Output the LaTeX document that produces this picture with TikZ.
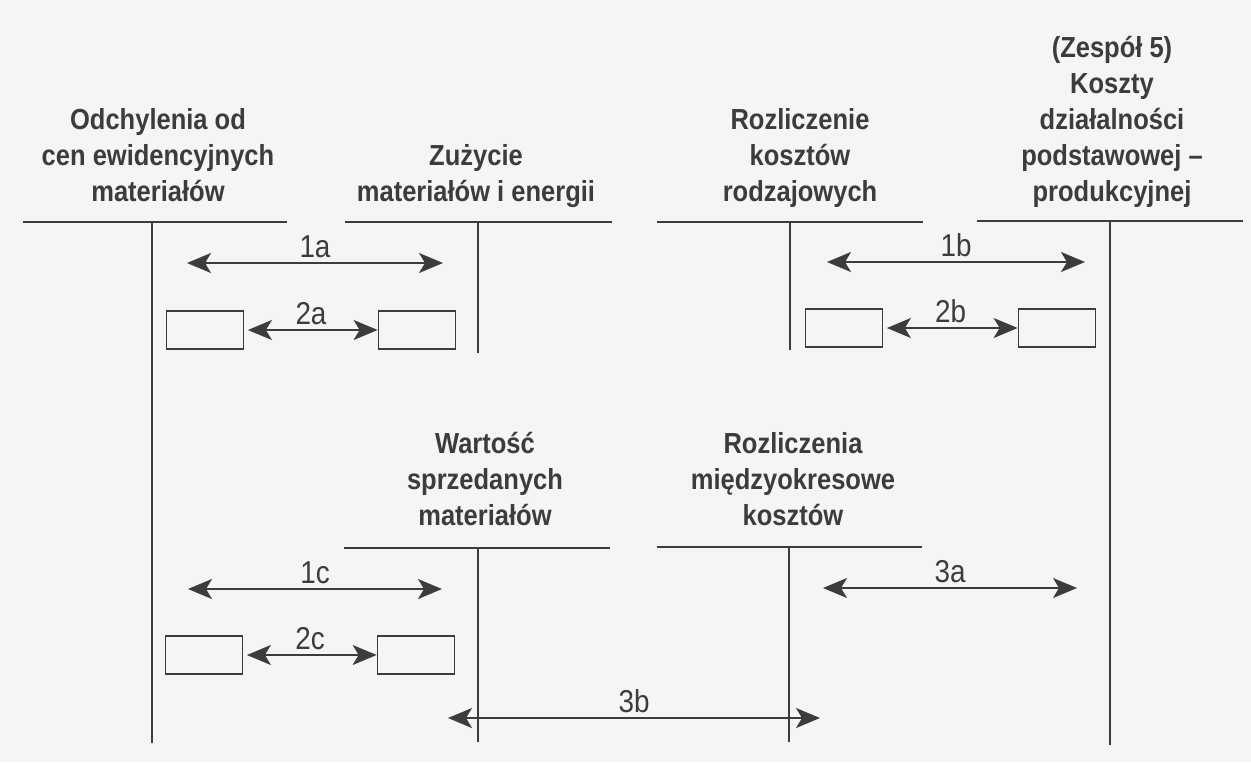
\documentclass[tikz,border=0pt]{standalone}
\usepackage{fontspec}
\setmainfont{Liberation Sans}[FakeStretch=0.88]
\usetikzlibrary{arrows.meta}

\definecolor{ink}{HTML}{3C3C3C}
\definecolor{paper}{HTML}{F5F5F5}

\tikzset{
  grot/.tip={Stealth[length=0.48cm, width=0.4cm, inset=0.12cm]},
  konto/.style={draw=ink, line width=1.1pt},
  naglowek/.style={anchor=south, align=center, inner sep=0pt, text=ink,
    font=\bfseries\fontsize{16.5}{20.5}\selectfont, execute at end node=\strut},
  okienko/.style={draw=ink, line width=1pt, minimum width=1.54cm,
    minimum height=0.76cm, inner sep=0pt},
  strzalka/.style={grot-grot, draw=ink, line width=1pt},
  etykieta/.style={above, inner sep=2.5pt, text=ink,
    font=\fontsize{18}{20}\selectfont}
}

\begin{document}
\begin{tikzpicture}[x=0.02cm, y=-0.02cm]
  \useasboundingbox (0,0) rectangle (1251,762);
  \fill[paper] (0,0) rectangle (1251,762);

  % naglowki kont
  \node[naglowek] (h-odch) at (158,213) {Odchylenia od\\cen ewidencyjnych\\materiałów};
  \node[naglowek] (h-zuz) at (476,213) {Zużycie\\materiałów i energii};
  \node[naglowek] (h-rkr) at (800,213) {Rozliczenie\\kosztów\\rodzajowych};
  \node[naglowek] (h-kdp) at (1112,213) {(Zespół 5)\\Koszty\\działalności\\podstawowej –\\produkcyjnej};
  \node[naglowek] (h-wsm) at (485,537) {Wartość\\sprzedanych\\materiałów};
  \node[naglowek] (h-rmk) at (793,537) {Rozliczenia\\międzyokresowe\\kosztów};

  % konta T
  \draw[konto] (23,222) -- (287,222);
  \draw[konto] (152,222) -- (152,743);
  \draw[konto] (345,222) -- (612,222);
  \draw[konto] (478,222) -- (478,353);
  \draw[konto] (657,222) -- (923,222);
  \draw[konto] (790,222) -- (790,350);
  \draw[konto] (977,221) -- (1243,221);
  \draw[konto] (1110,221) -- (1110,745);
  \draw[konto] (344,548) -- (610,548);
  \draw[konto] (478,548) -- (478,742);
  \draw[konto] (657,547) -- (922,547);
  \draw[konto] (789,547) -- (789,742);

  % punkty strzalek
  \coordinate (a1l) at (187,263);
  \coordinate (a1r) at (443,263);
  \coordinate (b1l) at (827,262);
  \coordinate (b1r) at (1085,262);
  \coordinate (c1l) at (188,589);
  \coordinate (c1r) at (442,589);
  \coordinate (a3l) at (823,588);
  \coordinate (a3r) at (1077,588);
  \coordinate (b3l) at (448,718);
  \coordinate (b3r) at (820,718);

  % okienka
  \node[okienko] (a2l) at (205,330) {};
  \node[okienko] (a2r) at (417,330) {};
  \node[okienko] (b2l) at (844,328) {};
  \node[okienko] (b2r) at (1057,328) {};
  \node[okienko] (c2l) at (204,655) {};
  \node[okienko] (c2r) at (416,655) {};

  % strzalki
  \draw[strzalka] (a1l) -- node[etykieta] (l1a) {1a} (a1r);
  \draw[strzalka] (b1l) -- node[etykieta] (l1b) {1b} (b1r);
  \draw[strzalka] (c1l) -- node[etykieta] (l1c) {1c} (c1r);
  \draw[strzalka, shorten <=2pt] (a2l.east) -- node[etykieta] (l2a) {2a} (a2r.west);
  \draw[strzalka, shorten <=2pt] (b2l.east) -- node[etykieta] (l2b) {2b} (b2r.west);
  \draw[strzalka, shorten <=2pt] (c2l.east) -- node[etykieta] (l2c) {2c} (c2r.west);
  \draw[strzalka] (a3l) -- node[etykieta] (l3a) {3a} (a3r);
  \draw[strzalka] (b3l) -- node[etykieta] (l3b) {3b} (b3r);
\end{tikzpicture}
\end{document}
